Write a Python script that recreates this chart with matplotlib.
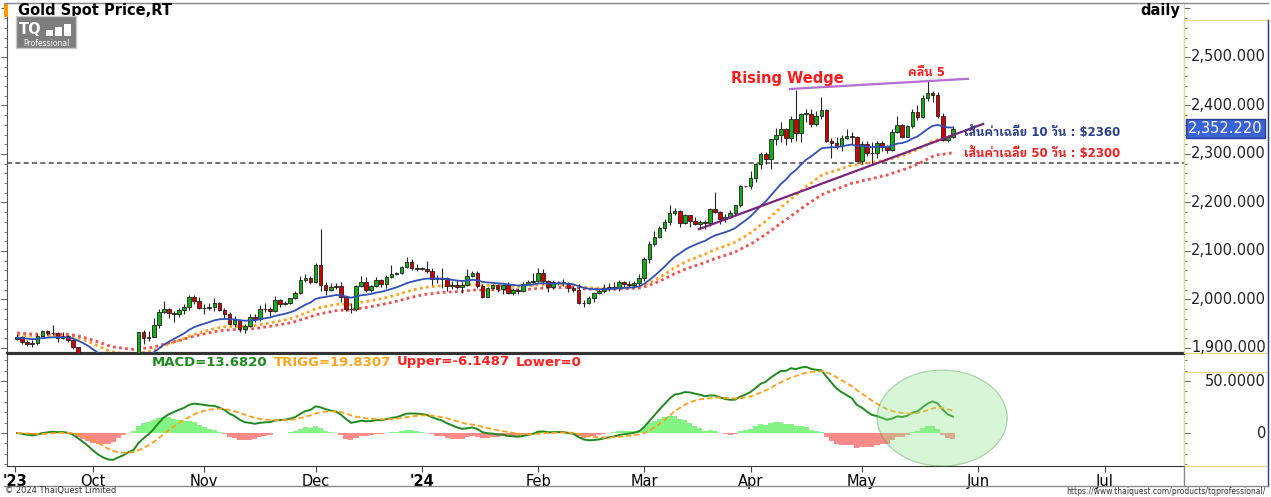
import numpy as np
import matplotlib.pyplot as plt
from matplotlib.patches import Rectangle, Ellipse
from matplotlib.ticker import MultipleLocator
import matplotlib.transforms as mtransforms

# daily bars, every weekday from 11 Sep 2023 to 27 May 2024
opens = [1919, 1922, 1913, 1908, 1910, 1924, 1934, 1931, 1930, 1920, 1925, 1916, 1901, 1874, 1864,
         1848, 1828, 1822, 1821, 1820, 1835, 1861, 1861, 1874, 1868, 1932, 1920, 1923, 1947, 1974,
         1981, 1973, 1971, 1979, 1985, 2006, 1996, 1983, 1982, 1985, 1992, 1978, 1969, 1950, 1958,
         1940, 1946, 1963, 1959, 1981, 1980, 1977, 1998, 1990, 1992, 2002, 2013, 2041, 2044, 2036,
         2072, 2029, 2019, 2025, 2028, 2005, 1981, 1980, 2027, 2036, 2019, 2028, 2040, 2031, 2046,
         2053, 2054, 2067, 2077, 2065, 2063, 2063, 2059, 2042, 2043, 2045, 2027, 2030, 2025, 2029,
         2049, 2055, 2028, 2006, 2023, 2029, 2021, 2029, 2014, 2020, 2018, 2032, 2037, 2039, 2054,
         2039, 2025, 2035, 2035, 2034, 2024, 2020, 1992, 1992, 2004, 2013, 2017, 2024, 2026, 2024,
         2035, 2031, 2029, 2034, 2044, 2083, 2114, 2128, 2148, 2159, 2179, 2182, 2158, 2175, 2162,
         2155, 2160, 2157, 2186, 2181, 2165, 2171, 2178, 2194, 2233, 2233, 2251, 2280, 2300, 2290,
         2330, 2339, 2352, 2333, 2372, 2344, 2383, 2383, 2361, 2379, 2391, 2327, 2322, 2316, 2332,
         2337, 2335, 2286, 2320, 2303, 2301, 2323, 2314, 2309, 2346, 2360, 2336, 2358, 2386, 2376,
         2415, 2425, 2421, 2379, 2329, 2334]
highs = [1929, 1925, 1917, 1916, 1929, 1937, 1936, 1947, 1932, 1932, 1926, 1917, 1902, 1880, 1880,
         1850, 1832, 1829, 1826, 1835, 1865, 1866, 1877, 1885, 1933, 1937, 1934, 1962, 1980, 1997,
         1983, 1976, 1982, 1991, 2009, 2010, 2006, 1991, 1993, 2004, 1994, 1982, 1974, 1965, 1960,
         1949, 1971, 1969, 1988, 1993, 1984, 2007, 2001, 1997, 2003, 2018, 2048, 2052, 2048, 2076,
         2146, 2036, 2034, 2034, 2036, 2007, 1993, 2030, 2048, 2047, 2030, 2047, 2043, 2051, 2071,
         2056, 2070, 2088, 2084, 2073, 2066, 2079, 2065, 2051, 2064, 2046, 2038, 2040, 2038, 2062,
         2058, 2058, 2031, 2026, 2031, 2032, 2031, 2037, 2023, 2024, 2036, 2040, 2055, 2065, 2063,
         2041, 2041, 2039, 2043, 2037, 2028, 2031, 1999, 2008, 2015, 2022, 2031, 2033, 2035, 2041,
         2038, 2038, 2038, 2052, 2088, 2120, 2141, 2152, 2165, 2195, 2189, 2184, 2177, 2175, 2170,
         2164, 2163, 2189, 2222, 2183, 2176, 2184, 2195, 2236, 2234, 2265, 2281, 2305, 2305, 2330,
         2354, 2365, 2354, 2378, 2431, 2384, 2393, 2392, 2389, 2417, 2393, 2333, 2335, 2339, 2352,
         2345, 2337, 2326, 2326, 2325, 2326, 2326, 2318, 2351, 2378, 2362, 2359, 2392, 2400, 2422,
         2450, 2430, 2427, 2385, 2340, 2357]
lows = [1917, 1908, 1905, 1901, 1907, 1922, 1926, 1927, 1913, 1919, 1913, 1898, 1872, 1858, 1846,
        1824, 1815, 1816, 1813, 1810, 1832, 1853, 1857, 1865, 1866, 1908, 1914, 1922, 1941, 1972,
        1961, 1954, 1964, 1970, 1978, 1990, 1981, 1970, 1978, 1977, 1977, 1962, 1947, 1944, 1932,
        1931, 1943, 1953, 1956, 1974, 1966, 1975, 1985, 1988, 1991, 2001, 2012, 2036, 2032, 2034,
        2018, 2009, 2017, 2022, 1994, 1976, 1972, 1976, 2025, 2016, 2016, 2026, 2026, 2024, 2044,
        2050, 2052, 2064, 2061, 2058, 2061, 2055, 2030, 2034, 2024, 2017, 2021, 2021, 2013, 2028,
        2046, 2023, 2002, 2005, 2021, 2016, 2011, 2012, 2010, 2011, 2016, 2029, 2031, 2035, 2031,
        2015, 2021, 2029, 2028, 2015, 2016, 1990, 1984, 1990, 1995, 2011, 2014, 2018, 2020, 2018,
        2025, 2025, 2025, 2030, 2039, 2076, 2110, 2126, 2142, 2154, 2174, 2150, 2155, 2150, 2153,
        2146, 2146, 2151, 2178, 2156, 2160, 2169, 2173, 2191, 2231, 2228, 2243, 2268, 2280, 2268,
        2318, 2325, 2319, 2325, 2326, 2324, 2366, 2355, 2357, 2373, 2325, 2291, 2310, 2306, 2330,
        2320, 2285, 2280, 2296, 2277, 2291, 2307, 2303, 2306, 2344, 2333, 2336, 2353, 2371, 2374,
        2410, 2408, 2374, 2326, 2325, 2333]
closes = [1922, 1913, 1908, 1910, 1924, 1934, 1931, 1930, 1920, 1925, 1916, 1901, 1874, 1864, 1848,
          1828, 1822, 1821, 1820, 1833, 1861, 1861, 1874, 1868, 1932, 1920, 1923, 1947, 1974, 1981,
          1973, 1971, 1979, 1985, 2006, 1996, 1983, 1982, 1985, 1992, 1978, 1969, 1950, 1958, 1940,
          1946, 1963, 1959, 1981, 1980, 1977, 1998, 1990, 1992, 2002, 2013, 2041, 2044, 2036, 2072,
          2029, 2019, 2025, 2028, 2005, 1981, 1980, 2027, 2036, 2019, 2028, 2040, 2031, 2046, 2053,
          2054, 2067, 2077, 2065, 2063, 2063, 2059, 2042, 2043, 2045, 2027, 2030, 2025, 2029, 2049,
          2055, 2028, 2006, 2023, 2029, 2021, 2029, 2014, 2020, 2018, 2032, 2037, 2039, 2054, 2039,
          2025, 2035, 2035, 2034, 2024, 2020, 1992, 1992, 2004, 2013, 2017, 2024, 2026, 2024, 2035,
          2031, 2029, 2034, 2044, 2083, 2114, 2128, 2148, 2159, 2179, 2182, 2158, 2175, 2162, 2155,
          2160, 2157, 2186, 2181, 2165, 2171, 2178, 2194, 2233, 2233, 2251, 2280, 2300, 2290, 2330,
          2339, 2352, 2333, 2372, 2344, 2383, 2383, 2361, 2379, 2391, 2327, 2322, 2316, 2332, 2337,
          2335, 2286, 2320, 2303, 2301, 2323, 2314, 2309, 2346, 2360, 2336, 2358, 2386, 2376, 2415,
          2425, 2421, 2379, 2329, 2334, 2352.22]

# moving-average periods and their starting values
ma_periods = [20, 35, 50]
ma_start = [1921, 1927, 1931]
ma_colors = ['#3050b8', '#ffa31a', '#f25050']

# month ticks (bar index) and labels
month_pos = [-0.4, 15, 37, 59, 80, 103, 124, 145, 167, 190, 215]
month_lab = ["'23", 'Oct', 'Nov', 'Dec', "'24", 'Feb', 'Mar', 'Apr', 'May', 'Jun', 'Jul']

price_ticks = [1900, 2000, 2100, 2200, 2300, 2400, 2500]
macd_ticks = [0, 50]
last_price = 2352.22
support_level = 2281

# wedge lines (bar index, price)
wedge_top_x = [152.8, 188.0]
wedge_top_y = [2434, 2455]
wedge_bot_x = [134.8, 191.0]
wedge_bot_y = [2145, 2362]

legend_parts = ['MACD=13.6820', 'TRIGG=19.8307', 'Upper=-6.1487', 'Lower=0']
legend_colors = ['#1f8a1f', '#ffa31a', '#ff2020', '#ff2020']

THAI = ['DejaVu Sans', 'IBM Plex Sans Thai Looped']


def ema(values, period, seed):
    k = 2.0 / (period + 1)
    out = [seed]
    for v in values[1:]:
        out.append(out[-1] + k * (v - out[-1]))
    return np.array(out)


o = np.array(opens, float)
h = np.array(highs, float)
l = np.array(lows, float)
c = np.array(closes, float)
idx = np.arange(len(c))

macd = ema(c, 12, c[0]) - ema(c, 26, c[0])
trigg = ema(macd, 9, 0.0)
hist = macd - trigg

plt.rcParams['font.family'] = ['DejaVu Sans']
W, H = 1271, 497
fig = plt.figure(figsize=(W / 100, H / 100), dpi=100)
fig.patch.set_facecolor('white')


def fx(px):
    return px / W


def fy(py):
    return 1 - py / H


ax = fig.add_axes([fx(7), fy(353), fx(1184) - fx(7), fy(3) - fy(353)])
axm = fig.add_axes([fx(7), fy(466), fx(1184) - fx(7), fy(354) - fy(466)], sharex=ax)

ax.set_xlim(-2.0, 230.7)
ax.set_ylim(1889.6, 2611.3)
axm.set_ylim(-31.7, 76)

# candles
up = c >= o
body_lo = np.minimum(o, c)
body_h = np.maximum(np.abs(c - o), 0.9)
ax.vlines(idx, l, h, color='#262626', lw=0.8, zorder=3)
ax.bar(idx[up], body_h[up], bottom=body_lo[up], width=0.72, color='#12b012',
       edgecolor='#202020', lw=0.6, zorder=4)
ax.bar(idx[~up], body_h[~up], bottom=body_lo[~up], width=0.72, color='#d40000',
       edgecolor='#202020', lw=0.6, zorder=4)

# moving averages
for per, seed, col in zip(ma_periods, ma_start, ma_colors):
    line = ema(c, per, seed)
    if per == ma_periods[0]:
        ax.plot(idx, line, color=col, lw=1.3, zorder=5)
    else:
        ax.plot(idx, line, color=col, lw=2.0, ls=(0, (1.0, 1.2)), zorder=2)

ax.axhline(support_level, color='#555555', lw=1.2, ls=(0, (3, 2)), zorder=1)
ax.plot(wedge_top_x, wedge_top_y, color='#b46fd0', lw=1.6, zorder=6)
ax.plot(wedge_bot_x, wedge_bot_y, color='#7b237f', lw=1.6, zorder=6)

# price axis styling
ax.spines['top'].set_color('#8a8a8a')
ax.spines['left'].set_color('#555555')
ax.spines['bottom'].set_color('#333333')
ax.spines['bottom'].set_linewidth(1.6)
ax.spines['right'].set_color('#e3cf7a')
ax.spines['right'].set_linestyle(':')
ax.yaxis.set_major_locator(MultipleLocator(100))
ax.yaxis.set_minor_locator(MultipleLocator(20))
ax.tick_params(axis='y', which='both', left=True, right=True, labelleft=False,
               labelright=False, direction='out', color='#666666')
ax.tick_params(axis='y', which='major', length=4)
ax.tick_params(axis='y', which='minor', length=2)
ax.tick_params(axis='x', which='both', bottom=False, labelbottom=False)

tr_p = mtransforms.blended_transform_factory(fig.transFigure, ax.transData)
for t in price_ticks:
    fig.text(fx(1266), t, f'{t:,.3f}', transform=tr_p, ha='right', va='center',
             fontsize=10.5, color='#222222')
fig.text(fx(1225), last_price, f'{last_price:,.3f}', transform=tr_p, ha='center', va='center',
         fontsize=10.5, color='white',
         bbox=dict(boxstyle='square,pad=0.15', facecolor='#3a63d6', edgecolor='#2a3f9a'))

# MACD panel
axm.bar(idx, hist, width=1.0, color=np.where(hist >= 0, '#84f584', '#ff8a8a'), lw=0, zorder=1)
axm.plot(idx, macd, color='#1f8a1f', lw=1.4, zorder=3)
axm.plot(idx, trigg, color='#ff9f1a', lw=1.3, ls=(0, (3, 1.6)), zorder=3)
axm.add_patch(Ellipse((182.9, 14.4), 25.7, 92.3, facecolor='#8fe88f', alpha=0.35,
                      edgecolor='#2e8b2e', lw=0.9, zorder=4, clip_on=False))
axm.spines['top'].set_color('#333333')
axm.spines['bottom'].set_color('#333333')
axm.spines['left'].set_color('#555555')
axm.spines['right'].set_color('#e3cf7a')
axm.spines['right'].set_linestyle(':')
axm.yaxis.set_major_locator(MultipleLocator(50))
axm.yaxis.set_minor_locator(MultipleLocator(10))
axm.tick_params(axis='y', which='both', left=True, right=True, labelleft=False,
                labelright=False, direction='out', color='#666666')
axm.tick_params(axis='y', which='major', length=4)
axm.tick_params(axis='y', which='minor', length=2)
axm.set_xticks(month_pos)
axm.set_xticklabels(month_lab)
axm.tick_params(axis='x', length=4, pad=1.5, labelsize=10.5, color='#444444')
for lab in axm.get_xticklabels():
    if lab.get_text().startswith("'"):
        lab.set_fontweight('bold')

tr_m = mtransforms.blended_transform_factory(fig.transFigure, axm.transData)
for t in macd_ticks:
    fig.text(fx(1266), t, f'{t:.4f}' if t else '0', transform=tr_m, ha='right',
             va='center', fontsize=10.5, color='#222222')

# MACD legend text, each part placed right after the previous one
renderer = fig.canvas.get_renderer()
x_px = 152
for txt, col in zip(legend_parts, legend_colors):
    t = fig.text(fx(x_px), fy(362), txt, ha='left', va='center', fontsize=9.5,
                 fontweight='bold', color=col)
    x_px = t.get_window_extent(renderer).x1 + 6

# annotations
fig.text(fx(731), fy(78), 'Rising Wedge', ha='left', va='center', fontsize=10.5,
         fontweight='bold', color='#ff1a1a')
fig.text(fx(926), fy(72), 'คลื่น 5', ha='center', va='center', fontsize=8.5,
         fontweight='bold', color='#ff1a1a', family=THAI)
fig.text(fx(964), fy(132), 'เส้นค่าเฉลี่ย 10 วัน : \\$2360', ha='left', va='center',
         fontsize=8.5, fontweight='bold', color='#2b3f8c', family=THAI)
fig.text(fx(964), fy(153), 'เส้นค่าเฉลี่ย 50 วัน : \\$2300', ha='left', va='center',
         fontsize=8.5, fontweight='bold', color='#ee2020', family=THAI)

# header
fig.patches.append(Rectangle((fx(4), fy(17)), fx(4), fy(3) - fy(17), transform=fig.transFigure,
                             facecolor='#ff9900', edgecolor='none'))
fig.text(fx(18), fy(11), 'Gold Spot Price,RT', ha='left', va='center', fontsize=10.5,
         fontweight='bold', color='black')
fig.text(fx(1180), fy(11), 'daily', ha='right', va='center', fontsize=10.5,
         fontweight='bold', color='black')

# logo
fig.patches.append(Rectangle((fx(16), fy(48)), fx(60), fy(16) - fy(48), transform=fig.transFigure,
                             facecolor='#7d7d7d', edgecolor='#c8c8c8', lw=1, zorder=5))
fig.text(fx(19), fy(29), 'TQ', ha='left', va='center', fontsize=10.5, fontweight='bold',
         color='white', zorder=6)
for bx, bh in [(46, 6), (55, 9), (64, 12)]:
    fig.patches.append(Rectangle((fx(bx), fy(36)), fx(7), fy(36 - bh) - fy(36),
                                 transform=fig.transFigure, facecolor='white',
                                 edgecolor='none', zorder=6))
fig.text(fx(46), fy(43), 'Professional', ha='center', va='center', fontsize=5.5,
         color='white', zorder=6)

# right label panels and frame
fig.patches.append(Rectangle((fx(1184), fy(353)), fx(84), fy(20) - fy(353),
                             transform=fig.transFigure, facecolor='none',
                             edgecolor='#e8d88e', lw=1))
fig.patches.append(Rectangle((fx(1184), fy(466)), fx(84), fy(372) - fy(466),
                             transform=fig.transFigure, facecolor='none',
                             edgecolor='#e8d88e', lw=1))
fig.add_artist(plt.Line2D([fx(1268), fx(1268)], [fy(486), fy(20)], color='#2a3a8a', lw=1))
fig.add_artist(plt.Line2D([fx(4), fx(1268)], [fy(3), fy(3)], color='#8a8a8a', lw=1))
fig.add_artist(plt.Line2D([fx(4), fx(1268)], [fy(486), fy(486)], color='#8a8a8a', lw=1))
fig.add_artist(plt.Line2D([fx(1184), fx(1184)], [fy(486), fy(466)], color='#8a8a8a', lw=1))

fig.text(fx(5), fy(491), '© 2024 ThaiQuest Limited', ha='left', va='center', fontsize=6,
         color='#333333')
fig.text(fx(1266), fy(492), 'https://www.thaiquest.com/products/tqprofessional/', ha='right',
         va='center', fontsize=5.5, color='#333333')

fig.savefig('out.png', dpi=100)
